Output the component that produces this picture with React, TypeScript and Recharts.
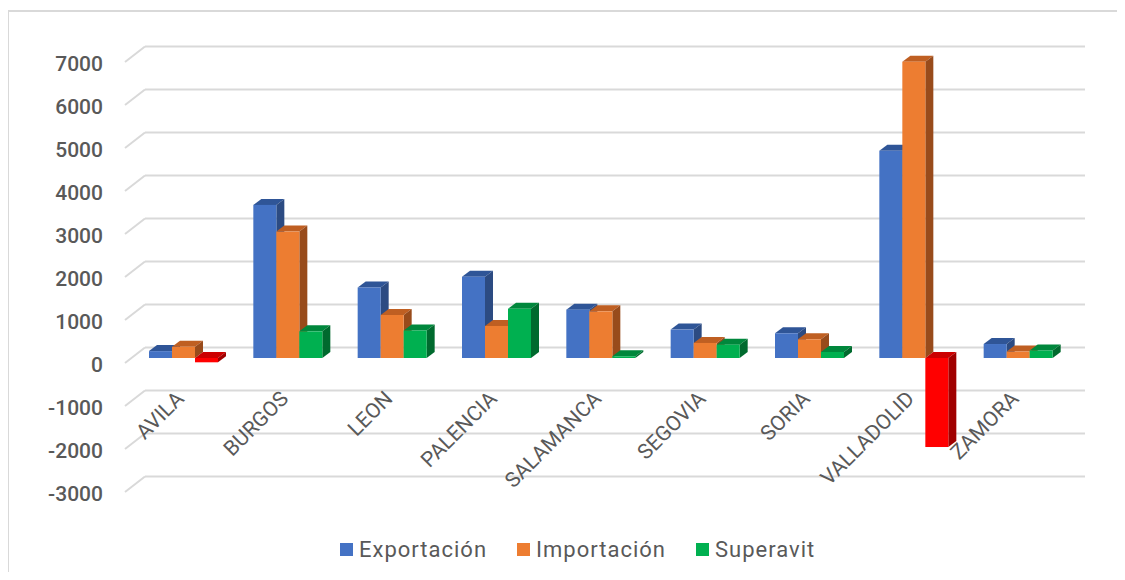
import { BarChart, Bar, XAxis, YAxis, CartesianGrid, Cell } from "recharts"

const provincias = ["AVILA", "BURGOS", "LEON", "PALENCIA", "SALAMANCA", "SEGOVIA", "SORIA", "VALLADOLID", "ZAMORA"]
const exportacion = [160, 3560, 1640, 1890, 1125, 660, 575, 4820, 325]
const importacion = [260, 2940, 1000, 745, 1085, 350, 435, 6890, 150]
const superavit = [-100, 620, 640, 1145, 40, 310, 140, -2070, 175]
const valueTicks = [-3000, -2000, -1000, 0, 1000, 2000, 3000, 4000, 5000, 6000, 7000]

const series = [
  { key: "exportacion", name: "Exportación", color: "#4472c4" },
  { key: "importacion", name: "Importación", color: "#ed7d31" },
  { key: "superavit", name: "Superavit", color: "#00b050" },
]
const negativeColor = "#ff0000"

const data = provincias.map((provincia, i) => ({
  provincia,
  exportacion: exportacion[i],
  importacion: importacion[i],
  superavit: superavit[i],
}))

// darker faces for the fake 3d look
const faces: Record<string, { top: string; side: string }> = {
  "#4472c4": { top: "#2f5597", side: "#2c4b82" },
  "#ed7d31": { top: "#bf5f22", side: "#984b1b" },
  "#00b050": { top: "#00873c", side: "#006a2e" },
  "#ff0000": { top: "#cc0000", side: "#a00000" },
}

const DX = 8
const DY = 6
const FONT = "Roboto, 'Noto Sans', sans-serif"
const TEXT = "#595959"
const GRID = "#d9d9d9"

function Bar3D(props: any) {
  const { x, y, width, height, fill } = props
  if (x == null || width == null) return null
  const top = Math.min(y, y + height)
  const h = Math.abs(height)
  const f = faces[fill] ?? { top: fill, side: fill }
  return (
    <g>
      <polygon
        points={`${x},${top} ${x + DX},${top - DY} ${x + width + DX},${top - DY} ${x + width},${top}`}
        fill={f.top}
      />
      <polygon
        points={`${x + width},${top} ${x + width + DX},${top - DY} ${x + width + DX},${top + h - DY} ${x + width},${top + h}`}
        fill={f.side}
      />
      <rect x={x} y={top} width={width} height={h} fill={fill} />
    </g>
  )
}

// back wall grid line + the short perspective line on the floor side
function GridLine(props: any) {
  const { y1, index } = props
  return (
    <g key={`grid-${index}`}>
      <line x1={117} y1={y1 + 5} x2={137} y2={y1 - 10.5} stroke={GRID} strokeWidth={2} />
      <line x1={137} y1={y1 - 10.5} x2={1077} y2={y1 - 10.5} stroke={GRID} strokeWidth={2} />
    </g>
  )
}

function ValueTick(props: any) {
  const { y, payload } = props
  return (
    <text
      x={95}
      y={y + 7}
      textAnchor="end"
      dominantBaseline="central"
      fill={TEXT}
      fontFamily={FONT}
      fontSize={21}
      fontWeight={500}
    >
      {payload.value}
    </text>
  )
}

function CategoryTick(props: any) {
  const { x, y, payload } = props
  // labels sit just under the zero line, not at the bottom of the plot
  const ly = y - 95
  return (
    <text
      x={x + 2}
      y={ly}
      textAnchor="end"
      transform={`rotate(-45 ${x + 2} ${ly})`}
      fill={TEXT}
      fontFamily={FONT}
      fontSize={21}
    >
      {payload.value}
    </text>
  )
}

export default function App() {
  return (
    <div style={{ position: "relative", width: 1117, height: 564, background: "#fff" }}>
      <div
        style={{
          position: "absolute",
          left: -1,
          top: 2,
          right: 0,
          bottom: 0,
          borderLeft: `2px solid ${GRID}`,
          borderTop: `2px solid ${GRID}`,
        }}
      />
      <BarChart
        width={1117}
        height={564}
        data={data}
        margin={{ top: 49, right: 55, bottom: 0, left: 0 }}
        barGap={0}
        barSize={23}
      >
        <CartesianGrid vertical={false} horizontal={GridLine} />
        <XAxis
          dataKey="provincia"
          height={85}
          axisLine={false}
          tickLine={false}
          interval={0}
          tick={<CategoryTick />}
        />
        <YAxis
          domain={[-3000, 7000]}
          ticks={valueTicks}
          width={123}
          axisLine={false}
          tickLine={false}
          interval={0}
          tick={<ValueTick />}
        />
        {series.map((s) => (
          <Bar
            key={s.key}
            dataKey={s.key}
            name={s.name}
            fill={s.color}
            shape={<Bar3D />}
            isAnimationActive={false}
          >
            {s.key === "superavit"
              ? superavit.map((v, i) => <Cell key={i} fill={v < 0 ? negativeColor : s.color} />)
              : null}
          </Bar>
        ))}
      </BarChart>
      <div
        style={{
          position: "absolute",
          left: 332,
          top: 528,
          height: 26,
          display: "flex",
          alignItems: "center",
          fontFamily: FONT,
          fontSize: 22,
          color: TEXT,
          letterSpacing: 1,
        }}
      >
        {series.map((s) => (
          <div key={s.key} style={{ display: "flex", alignItems: "center", marginRight: 30 }}>
            <span style={{ width: 13, height: 13, background: s.color, marginRight: 6 }} />
            <span>{s.name}</span>
          </div>
        ))}
      </div>
    </div>
  )
}
